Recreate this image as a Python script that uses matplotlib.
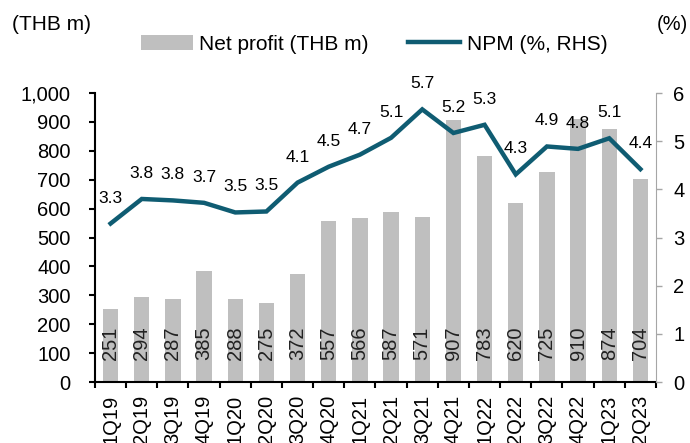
import matplotlib.pyplot as plt
import numpy as np

plt.rcParams['font.family'] = ['Liberation Sans', 'DejaVu Sans']

quarters = ['1Q19', '2Q19', '3Q19', '4Q19', '1Q20', '2Q20', '3Q20', '4Q20', '1Q21',
            '2Q21', '3Q21', '4Q21', '1Q22', '2Q22', '3Q22', '4Q22', '1Q23', '2Q23']
net_profit = [251, 294, 287, 385, 288, 275, 372, 557, 566,
              587, 571, 907, 783, 620, 725, 910, 874, 704]
npm = [3.29, 3.80, 3.77, 3.72, 3.52, 3.54, 4.14, 4.47, 4.72,
       5.07, 5.66, 5.17, 5.34, 4.31, 4.89, 4.84, 5.06, 4.42]

bar_color = '#BFBFBF'
line_color = '#0F5C72'

fig = plt.figure(figsize=(6.9, 4.43), dpi=100)
ax = fig.add_axes([95/690, 1 - 382/443, (656 - 95)/690, (382 - 93)/443])
ax2 = ax.twinx()

x = np.arange(len(quarters))
bars = ax.bar(x, net_profit, width=0.49, color=bar_color, zorder=2)
line, = ax2.plot(x, npm, color=line_color, lw=3.2, solid_joinstyle='miter')

# values inside the bars
for xi, v in zip(x, net_profit):
    ax.annotate(str(v), (xi, 0), xytext=(0, 22), textcoords='offset pixels',
                ha='center', va='bottom', rotation=90, fontsize=14.5, color='#222222')

# NPM labels above the line
for xi, v in zip(x, npm):
    ax2.annotate('%.1f' % v, (xi, v), xytext=(0, 18), textcoords='offset pixels',
                 ha='center', va='bottom', fontsize=12.5, color='black')

ax.set_xlim(-0.5, len(quarters) - 0.5)
ax.set_ylim(0, 1000)
ax2.set_ylim(0, 6)
ax.set_yticks(np.arange(0, 1001, 100))
ax.set_yticklabels(['{:,}'.format(t) for t in range(0, 1001, 100)], fontsize=14.5)
ax2.set_yticks(range(0, 7))
ax2.set_yticklabels([str(t) for t in range(7)], fontsize=14.5)

# ticks between bars, labels at bar centres
ax.set_xticks(np.arange(-0.5, len(quarters), 1.0))
ax.set_xticklabels([])
ax.set_xticks(x, minor=True)
ax.set_xticklabels(quarters, minor=True, rotation=90, fontsize=14.5)
ax.tick_params(axis='x', which='minor', length=0, pad=9)
ax.tick_params(axis='x', which='major', length=4.5, width=1.5, color='black')
ax.tick_params(axis='y', length=4.5, width=1.5, color='black', pad=13)
ax2.tick_params(axis='y', length=4.5, width=1, color='#A6A6A6', pad=8)

ax.spines['top'].set_visible(False)
ax2.spines['top'].set_visible(False)
ax.spines['left'].set_linewidth(1.5)
ax.spines['bottom'].set_linewidth(1.5)
ax.spines['bottom'].set_zorder(5)
ax2.spines['right'].set_color('#A6A6A6')
ax2.spines['left'].set_visible(False)
ax2.spines['bottom'].set_visible(False)
ax.spines['right'].set_visible(False)

fig.text(12/690, 1 - 25/443, '(THB m)', fontsize=15, va='center', ha='left')
fig.text(657/690, 1 - 25/443, '(%)', fontsize=14.5, va='center', ha='left')

fig.legend([bars, line], ['Net profit (THB m)', 'NPM (%, RHS)'], loc='center',
           bbox_to_anchor=(374/690, 1 - 44/443), ncol=2, frameon=False, fontsize=15,
           handlelength=2.5, handleheight=0.7, handletextpad=0.3, columnspacing=1.9)

fig.savefig('out.png', dpi=100)
